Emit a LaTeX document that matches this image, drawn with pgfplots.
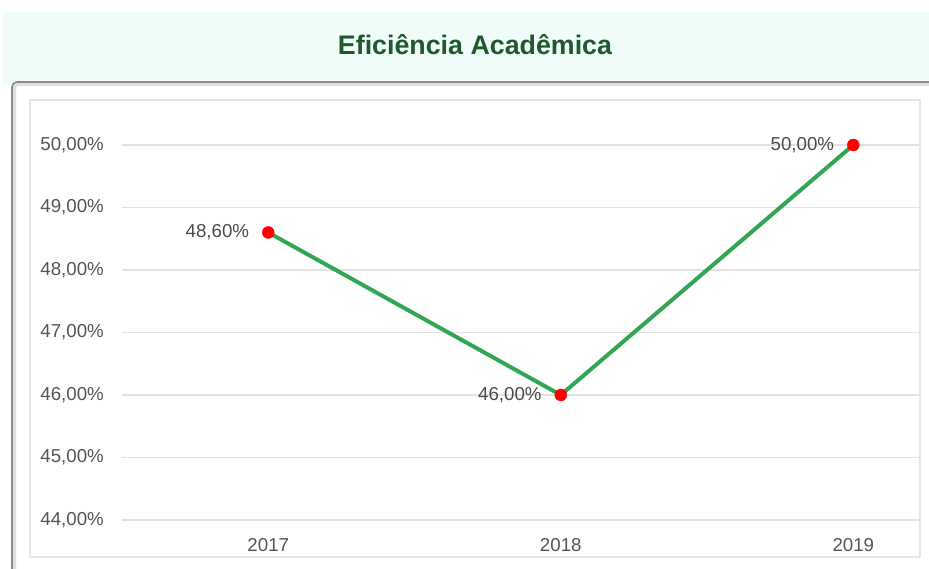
\documentclass[border=0pt]{standalone}
\usepackage{pgfplots}
\pgfplotsset{compat=1.18}
\usepackage{fontspec}
\setmainfont{Liberation Sans}
\definecolor{mint}{HTML}{EFFCFA}
\definecolor{titlegreen}{HTML}{1F5A2C}
\definecolor{linegreen}{HTML}{34A553}
\definecolor{gridgray}{HTML}{E2E2E2}
\definecolor{framegray}{HTML}{E6E6E6}
\definecolor{ticktext}{HTML}{555555}
\definecolor{panelgray}{HTML}{8C8C8C}
\begin{document}
\begin{tikzpicture}[x=1pt,y=1pt]
\useasboundingbox (0,0) rectangle (929,569);
\fill[white] (0,0) rectangle (929,569);
% title band
\fill[mint] (3,484) rectangle (929,557);
\node[font=\fontsize{26.8}{30}\selectfont\bfseries, text=titlegreen] at (475,524) {Eficiência Acadêmica};
% panel
\fill[white] (12,0) -- (12,482) arc[start angle=180,end angle=90,radius=5] -- (929,487) -- (929,0) -- cycle;
\draw[gray!25, line width=3pt] (14.5,0) -- (14.5,481) arc[start angle=180,end angle=90,radius=3.5] -- (929,484.5);
\draw[panelgray, line width=1.6pt] (12,0) -- (12,482) arc[start angle=180,end angle=90,radius=5] -- (929,487);
% inner frame
\draw[framegray, line width=1.5pt] (30,12) rectangle (920,469);
\begin{axis}[
  at={(122pt,49pt)}, anchor=south west,
  scale only axis, width=798pt, height=375pt,
  xmin=-0.5, xmax=2.228, ymin=44, ymax=50,
  clip=false,
  axis line style={draw=none},
  major tick length=0pt,
  xtick={0,1,2}, xticklabels={2017,2018,2019},
  ytick={44,45,46,47,48,49,50},
  yticklabels={{44,00\%},{45,00\%},{46,00\%},{47,00\%},{48,00\%},{49,00\%},{50,00\%}},
  ymajorgrids, grid style={gridgray, line width=1.5pt},
  tick label style={font=\fontsize{18.7}{22}\selectfont, text=ticktext, inner sep=0pt},
  yticklabel style={anchor=east, xshift=-18pt},
  xticklabel style={anchor=north, yshift=-18pt},
  nodes near coords,
  point meta=explicit symbolic,
  nodes near coords style={font=\fontsize{18.7}{22}\selectfont, text=ticktext!90!black, anchor=east, inner sep=0pt, xshift=-19pt},
]
\addplot[linegreen, line width=4pt, mark=*, mark size=6pt, mark options={red, line width=0.4pt}]
  table[meta=label] {
x y label
0 48.6 {48,60\%}
1 46.0 {46,00\%}
2 50.0 {50,00\%}
};
\end{axis}
\end{tikzpicture}
\end{document}
